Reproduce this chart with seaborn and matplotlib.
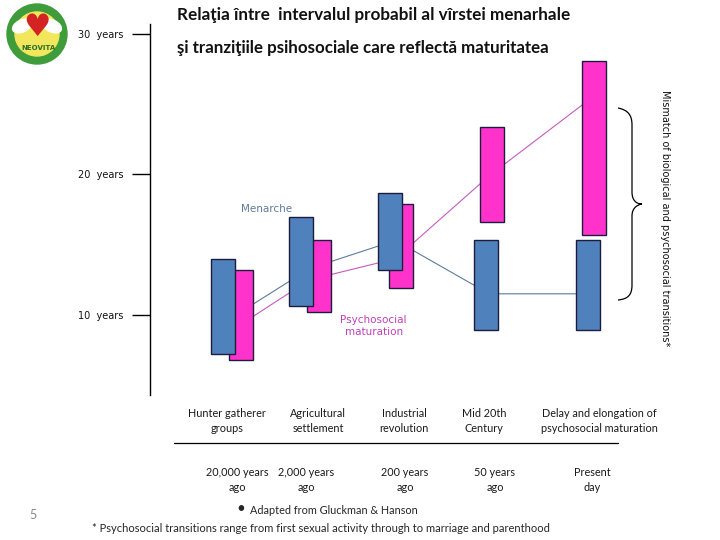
import matplotlib
matplotlib.use("Agg")
import matplotlib.pyplot as plt
import seaborn as sns
from matplotlib.path import Path
from matplotlib.patches import PathPatch, Circle, Ellipse

# date
eras = ["Hunter gatherer\ngroups", "Agricultural\nsettlement", "Industrial\nrevolution",
        "Mid 20th\nCentury", "Delay and elongation of\npsychosocial maturation"]
times = ["20,000 years\nago", "2,000 years\nago", "200 years\nago", "50 years\nago", "Present\nday"]

# varsta (ani) - menarha (albastru) si maturizare psihosociala (roz)
menarche_low = [7.2, 10.6, 13.2, 8.9, 8.9]
menarche_high = [14.0, 17.0, 18.7, 15.3, 15.3]
psycho_low = [6.8, 10.2, 11.9, 16.6, 15.7]
psycho_high = [13.2, 15.3, 17.9, 23.4, 28.1]

# liniile de legatura
menarche_line = [9.8, 13.3, 15.3, 11.5, 11.5]
psycho_line = [8.9, 12.5, 14.0, 19.9, 25.4]

ytick_vals = [10, 20, 30]
ytick_labels = ["10  years", "20  years", "30  years"]

# asezare pe orizontala
era_x = [0, 1, 2.1, 3.3, 4.6]
offset = [0.115, 0.115, 0.076, 0.038, 0.038]
bar_w = 0.308

BLUE = "#4f81bd"
PINK = "#ff33cc"
EDGE = "#1c1c3c"

sns.set_style("white")
plt.rcParams["font.family"] = ["Lato", "DejaVu Sans"]

fig = plt.figure(figsize=(7.2, 5.4), dpi=100)

# --- strat pentru texte (in spate) ---
ov = fig.add_axes([0, 0, 1, 1])
ov.set_xlim(0, 720)
ov.set_ylim(540, 0)
ov.axis("off")

# --- axa principala ---
ax = fig.add_axes([150 / 720, 145 / 540, 550 / 720, 371 / 540])
ax.set_facecolor("none")
ax.set_xlim(-1.045, 6.0)
ax.set_ylim(4.3, 30.7)

sns.lineplot(x=era_x, y=menarche_line, color="#5d7b9c", lw=0.8, ax=ax, zorder=2)
sns.lineplot(x=era_x, y=psycho_line, color="#c45cc0", lw=0.8, ax=ax, zorder=2)

for i in range(len(era_x)):
    ax.bar(era_x[i] + offset[i], psycho_high[i] - psycho_low[i], bottom=psycho_low[i],
           width=bar_w, color=PINK, edgecolor=EDGE, lw=1, zorder=3)
    ax.bar(era_x[i] - offset[i], menarche_high[i] - menarche_low[i], bottom=menarche_low[i],
           width=bar_w, color=BLUE, edgecolor=EDGE, lw=1, zorder=4)

for s in ["top", "right", "bottom"]:
    ax.spines[s].set_visible(False)
ax.spines["left"].set_color("black")
ax.spines["left"].set_linewidth(1.0)
ax.set_xticks([])
ax.set_yticks(ytick_vals)
ax.set_yticklabels(ytick_labels, family="DejaVu Sans", fontsize=7, color="#111111")
ax.tick_params(axis="y", length=13, width=1, pad=6, direction="out", color="black", left=True)

ax.text(0.45, 17.5, "Menarche", family="DejaVu Sans", fontsize=7.5, color="#5d7b9c",
        ha="center", va="center")
ax.text(1.82, 9.2, "Psychosocial\nmaturation", family="DejaVu Sans", fontsize=7.5,
        color="#c040b8", ha="center", va="center", linespacing=1.2)

# titlu
ov.text(177, 15, "Relaţia între  intervalul probabil al vîrstei menarhale", fontsize=12.3,
        fontweight="bold", ha="left", va="center", color="#111111")
ov.text(177, 48, "şi tranziţiile psihosociale care reflectă maturitatea", fontsize=12.2,
        fontweight="bold", ha="left", va="center", color="#111111")

era_tx = [227, 318, 404, 484, 599]
for x, t in zip(era_tx, eras):
    ov.text(x, 421, t, fontsize=7.8, ha="center", va="center", color="#1a1a1a", linespacing=1.35)
ov.plot([174, 618], [443, 443], color="black", lw=0.9)

time_tx = [237, 306, 405, 495, 592]
for x, t in zip(time_tx, times):
    ov.text(x, 480, t, fontsize=7.8, ha="center", va="center", color="#1a1a1a", linespacing=1.35)

ov.text(241, 509, "•", fontsize=11, ha="center", va="center")
ov.text(250, 510, "Adapted from Gluckman & Hanson", fontsize=7.8, ha="left", va="center")
ov.text(92, 529, "* Psychosocial transitions range from first sexual activity through to marriage and parenthood",
        fontsize=8.05, ha="left", va="center")
ov.text(33, 515, "5", fontsize=9, color="#888888", ha="center", va="center")

# acolada
verts = [(618, 108), (628, 110), (632, 115), (632, 125),
         (632, 192),
         (632, 200), (636, 204), (642, 204),
         (636, 205), (632, 209), (632, 216),
         (632, 285),
         (632, 295), (628, 299), (618, 300)]
codes = [Path.MOVETO, Path.CURVE4, Path.CURVE4, Path.CURVE4,
         Path.LINETO,
         Path.CURVE4, Path.CURVE4, Path.CURVE4,
         Path.CURVE4, Path.CURVE4, Path.CURVE4,
         Path.LINETO,
         Path.CURVE4, Path.CURVE4, Path.CURVE4]
ov.add_patch(PathPatch(Path(verts, codes), facecolor="none", edgecolor="black", lw=0.9))
ov.text(665, 218, "Mismatch of biological and psychosocial transitions*", family="DejaVu Sans",
        fontsize=7, rotation=-90, ha="center", va="center", color="#111111")

# sigla (aproximativ)
ov.add_patch(Circle((37, 34), 30, color="#3f9c3a"))
ov.add_patch(Circle((37, 34), 22, color="#f1e65c"))
ov.add_patch(Ellipse((22, 26), 20, 12, angle=-25, color="white"))
ov.add_patch(Ellipse((52, 26), 20, 12, angle=25, color="white"))
ov.text(37, 28, "♥", family="DejaVu Sans", fontsize=22, color="#d42323", ha="center", va="center")
ov.text(38, 48, "NEOVITA", family="DejaVu Sans", fontsize=5, color="#2a6e2a", ha="center",
        va="center", fontweight="bold")

fig.savefig("out.png", dpi=100)
